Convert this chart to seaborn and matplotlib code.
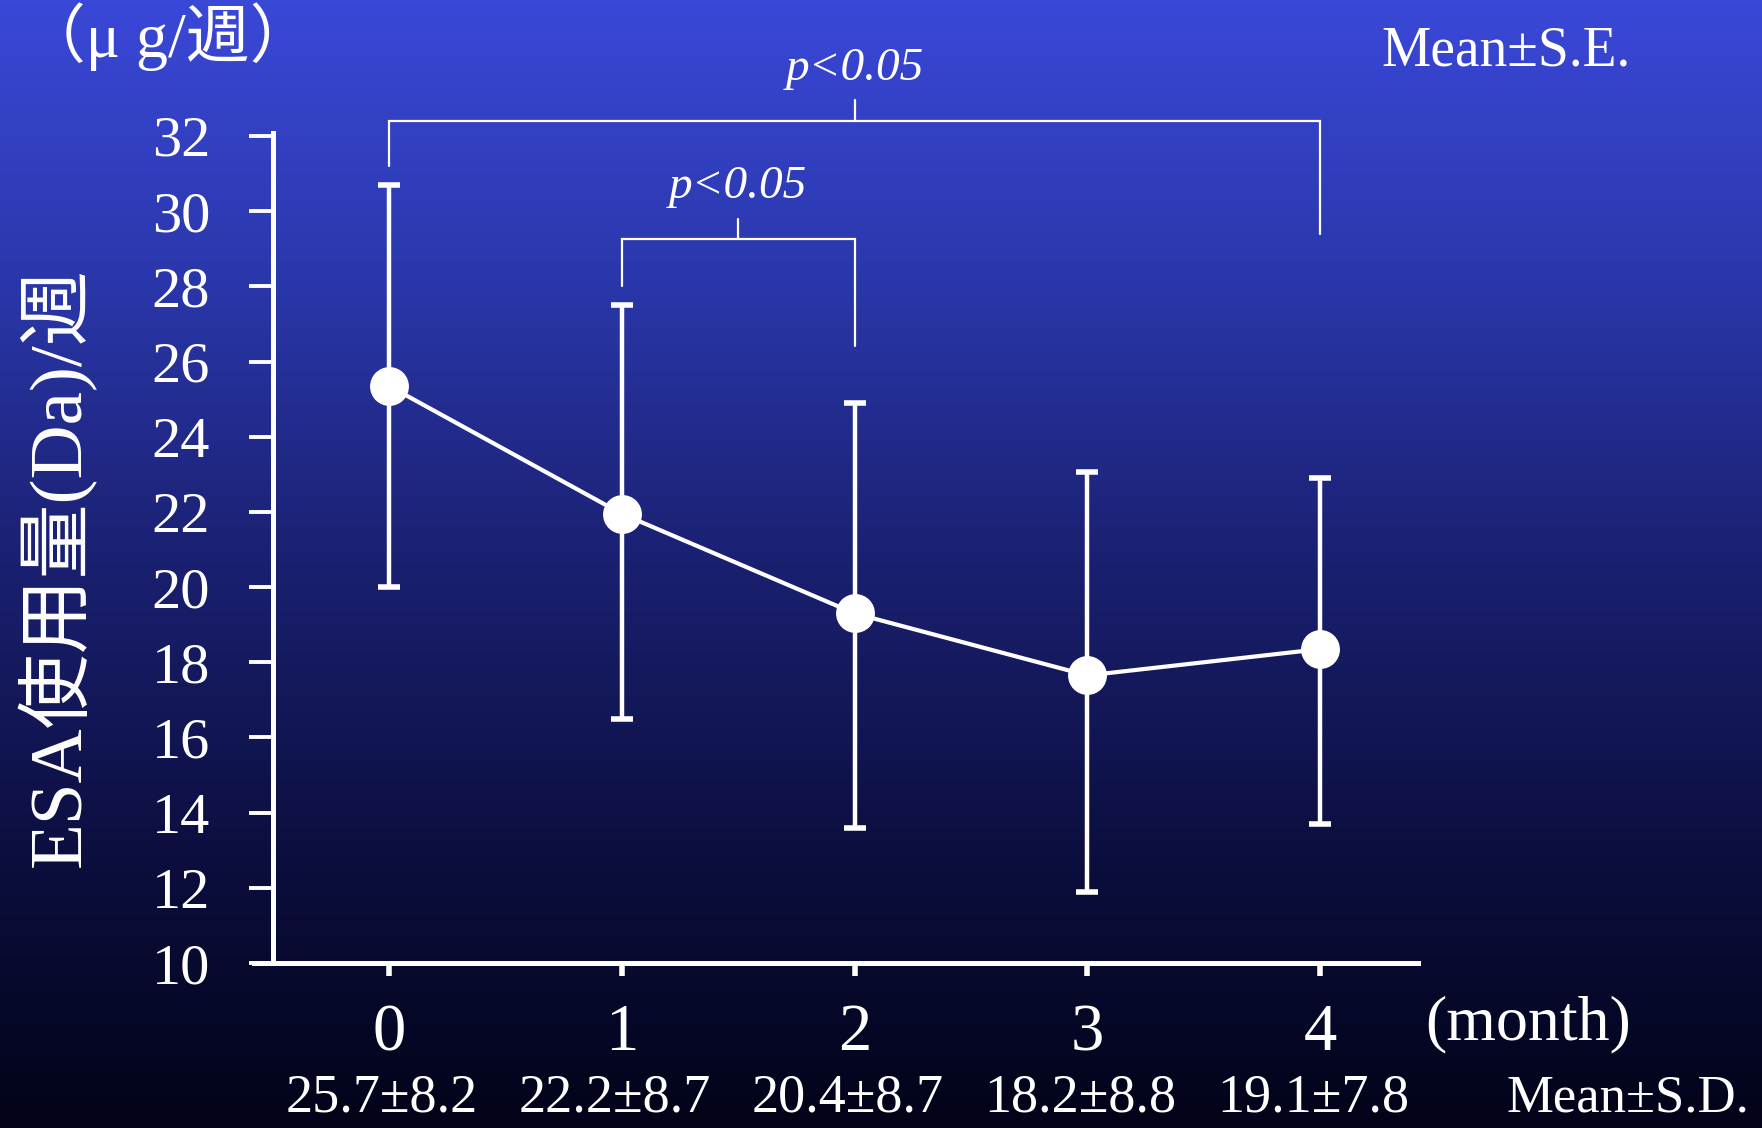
import numpy as np
import pandas as pd
import matplotlib
matplotlib.use("Agg")
import matplotlib.pyplot as plt
import matplotlib.transforms as mtrans
from matplotlib.colors import LinearSegmentedColormap
import seaborn as sns

# Data
months = [0, 1, 2, 3, 4]
means = [25.35, 21.95, 19.3, 17.65, 18.35]
se_upper = [30.7, 27.5, 24.9, 23.05, 22.9]
se_lower = [20.0, 16.5, 13.6, 11.9, 13.7]
sd_labels = ["25.7±8.2", "22.2±8.7", "20.4±8.7", "18.2±8.8", "19.1±7.8"]
y_ticks = [10, 12, 14, 16, 18, 20, 22, 24, 26, 28, 30, 32]

# significance brackets: (left x, right x, bar height, left leg end, right leg end, text y)
brackets = [
    (0, 4, 32.4, 31.2, 29.4, 33.8),
    (1, 2, 29.25, 28.0, 26.4, 30.65),
]
sig_text = "p<0.05"

df = pd.DataFrame({"month": months, "mean": means})

sns.set_style("ticks")
plt.rcParams["font.family"] = ["Liberation Serif", "Noto Sans CJK JP"]
plt.rcParams["axes.unicode_minus"] = False

W, H = 1762, 1128
fig = plt.figure(figsize=(W / 100, H / 100), dpi=100)

# background gradient
bg = fig.add_axes([0, 0, 1, 1], zorder=-10)
cmap = LinearSegmentedColormap.from_list(
    "bg", ["#3a48d8", "#2a37aa", "#1a2070", "#0c0f40", "#020318"])
grad = np.linspace(0, 1, 256).reshape(-1, 1)
bg.imshow(grad, aspect="auto", cmap=cmap, extent=[0, 1, 0, 1], origin="upper")
bg.axis("off")

# main axes, pixel layout taken from reference
x0, x1 = 254, 1418
ytop, ybot = 42, 963
ax = fig.add_axes([x0 / W, (H - ybot) / H, (x1 - x0) / W, (ybot - ytop) / H])
ax.set_facecolor("none")
ax.set_xlim(-0.58, 4.42)
ax.set_ylim(10, 34.5)

sns.lineplot(data=df, x="month", y="mean", ax=ax, color="white", lw=3,
             marker="o", markersize=28, markeredgewidth=0, zorder=5)
yerr = [np.array(means) - np.array(se_lower), np.array(se_upper) - np.array(means)]
ax.errorbar(months, means, yerr=yerr, fmt="none", ecolor="white",
            elinewidth=3.2, capsize=8, capthick=4, zorder=4)

for xl, xr, yb, yl, yr, yt in brackets:
    xm = (xl + xr) / 2
    ax.plot([xl, xl, xr, xr], [yl, yb, yb, yr], color="white", lw=1.6,
            solid_joinstyle="miter")
    ax.plot([xm, xm], [yb, yb + 0.55], color="white", lw=1.6)
    ax.text(xm, yt, sig_text, color="white", fontsize=34, style="italic",
            ha="center", va="center")

# spines and ticks
for s in ["top", "right"]:
    ax.spines[s].set_visible(False)
ax.spines["left"].set_position(("data", -0.5))
ax.spines["left"].set_bounds(10, 32.08)
for s in ["left", "bottom"]:
    ax.spines[s].set_color("white")
    ax.spines[s].set_linewidth(3.6)
ax.set_yticks(y_ticks)
ax.set_xticks(months)
ax.tick_params(axis="y", colors="white", labelsize=42, length=17, width=2.8,
               pad=28, direction="out")
ax.tick_params(axis="x", colors="white", labelsize=48, length=9, width=4,
               pad=20, direction="out")
ax.set_xlabel("")
ax.set_ylabel("")

# texts
fig.text(56 / W, 1 - 567 / H, "ESA使用量(Da)/週", color="white", fontsize=54,
         rotation=90, ha="center", va="center")
fig.text(22 / W, 1 - 37 / H, "（μ g/週）", color="white", fontsize=46,
         ha="left", va="center")
fig.text(1381 / W, 1 - 65 / H, "Mean±S.E.", color="white", fontsize=40,
         ha="left", va="baseline")
fig.text(1425 / W, 1 - 1039 / H, "(month)", color="white", fontsize=46,
         ha="left", va="baseline")
fig.text(1506 / W, 1 - 1112 / H, "Mean±S.D.", color="white", fontsize=38,
         ha="left", va="baseline")
trans = mtrans.blended_transform_factory(ax.transData, fig.transFigure)
for m, lab in zip(months, sd_labels):
    ax.text(m - 0.03, 1 - 1112 / H, lab, color="white", fontsize=39,
            ha="center", va="baseline", transform=trans)

fig.savefig("out.png", dpi=100)
